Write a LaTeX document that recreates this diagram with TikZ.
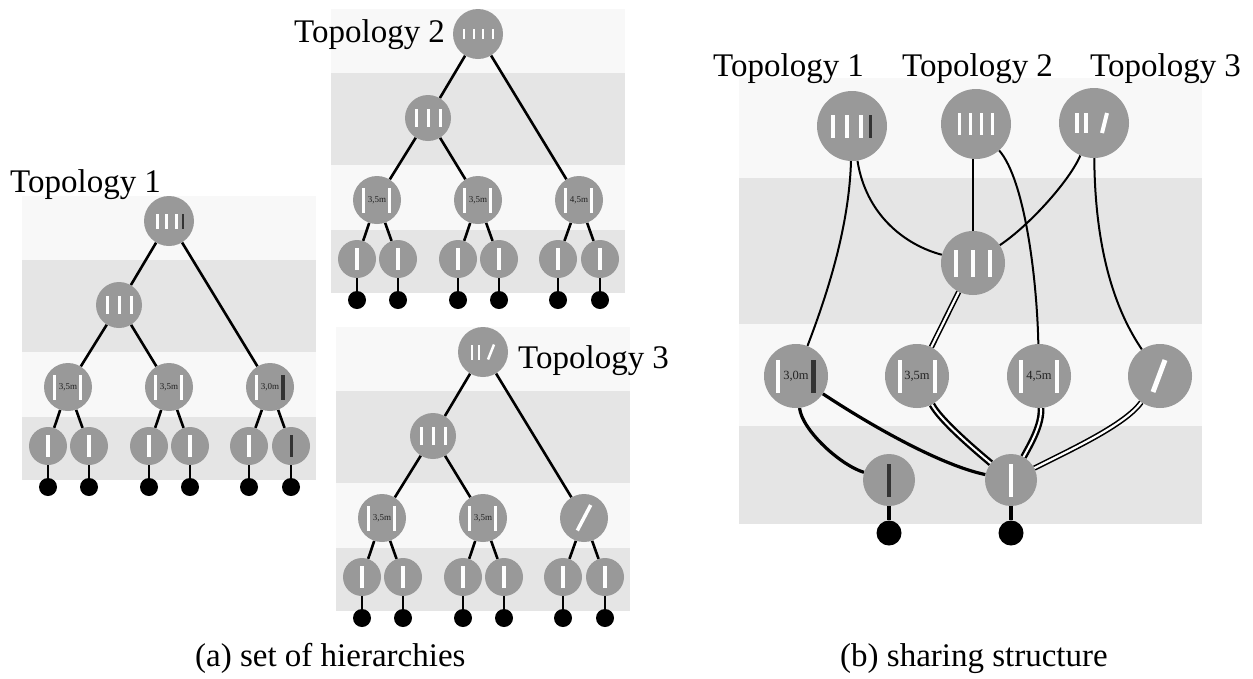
\documentclass[tikz,border=0pt]{standalone}
\usepackage{fontspec}
\setmainfont{Liberation Serif}
\definecolor{bandlight}{HTML}{F8F8F8}
\definecolor{banddark}{HTML}{E5E5E5}
\definecolor{nodegray}{HTML}{999999}
\definecolor{bardark}{HTML}{333333}
\definecolor{textdark}{HTML}{222222}
\pgfdeclarelayer{bands}
\pgfdeclarelayer{edges}
\pgfsetlayers{bands,edges,main}
\tikzset{
  gnode/.style={circle, fill=nodegray, inner sep=0pt, minimum size=#1},
  edgeA/.style={line width=2.6pt, black},
  edgeB/.style={line width=2pt, black},
  edgeBthick/.style={line width=3.2pt, black},
  dblthin/.style={draw=black, double=white, line width=1.6pt, double distance=2.2pt},
  dblthick/.style={draw=black, double=white, line width=2.4pt, double distance=2pt},
  dotA/.style={circle, fill=black, inner sep=0pt, minimum size=18pt},
  dotB/.style={circle, fill=black, inner sep=0pt, minimum size=25pt},
  toplabel/.style={font=\fontsize{33}{40}\selectfont, inner sep=0pt, anchor=base west},
  smA/.style={font=\fontsize{9}{10}\selectfont, text=textdark},
  smB/.style={font=\fontsize{12.5}{14}\selectfont, text=textdark},
}
% glyph helpers
\newcommand\onnode[2]{\begin{scope}[shift={(#1.center)}]#2\end{scope}}
\newcommand\gbar[4]{\fill[#4] ({#1-#2/2},{-#3/2}) rectangle ({#1+#2/2},{#3/2});}
\newcommand\gslash[5]{\draw[white, line width=#5pt] (#1,#2) -- (#3,#4);}
% one hierarchy of panel (a)
\newcommand\hierarchy[5]{%
\begin{scope}[shift={#2}, name prefix=#1-]
\begin{pgfonlayer}{bands}
 \fill[bandlight] (-147,-25) rectangle (147,38.5);
 \fill[banddark] (-147,38.5) rectangle (147,131);
 \fill[bandlight] (-147,131) rectangle (147,196);
 \fill[banddark] (-147,196) rectangle (147,259);
\end{pgfonlayer}
\node[gnode=50pt] (r) at (0,0) {};
\node[gnode=46pt] (m) at (-50,84) {};
\node[gnode=48pt, smA] (p) at (-101,166) {#3};
\node[gnode=48pt, smA] (q) at (0,166) {#4};
\node[gnode=48pt, smA] (s) at (101,166) {#5};
\foreach \i/\x in {1/-121,2/-80,3/-20,4/21,5/80,6/122} {
  \node[gnode=38pt] (l\i) at (\x,225) {};
  \node[dotA] (d\i) at (\x,266) {};
}
\begin{pgfonlayer}{edges}
 \draw[edgeA] (r) -- (m) (r) -- (s) (m) -- (p) (m) -- (q)
   (p) -- (l1) (p) -- (l2) (q) -- (l3) (q) -- (l4) (s) -- (l5) (s) -- (l6);
 \foreach \i in {1,...,6} {\draw[edgeA] (l\i) -- (d\i);}
\end{pgfonlayer}
\end{scope}}
\begin{document}
\begin{tikzpicture}[x=1pt,y=-1pt]
\useasboundingbox (0,0) rectangle (1253,678);
\begin{pgfonlayer}{bands}
\fill[white] (0,0) rectangle (1253,678);
\end{pgfonlayer}

% ---------- panel (a) ----------
\hierarchy{a1}{(169,221)}{3,5m}{3,5m}{3,0m}
\hierarchy{a2}{(478,34)}{3,5m}{3,5m}{4,5m}
\hierarchy{a3}{(483,352)}{3,5m}{3,5m}{}

% glyphs: roots
\onnode{a1-r}{\gbar{-12}{3}{15}{white}\gbar{-2.5}{3}{15}{white}\gbar{7.5}{3}{15}{white}\gbar{14}{2}{15}{bardark}}
\onnode{a2-r}{\gbar{-14}{2}{10}{white}\gbar{-4.5}{2}{10}{white}\gbar{5}{2}{10}{white}\gbar{14.5}{2}{10}{white}}
\onnode{a3-r}{\gbar{-11}{2.5}{15}{white}\gbar{-4}{2.5}{15}{white}\gslash{5}{7.5}{11}{-7.5}{2.5}}
% glyphs: mid, level 3, leaves
\foreach \t in {a1,a2,a3} {
  \onnode{\t-m}{\gbar{-12}{3}{18}{white}\gbar{0}{3}{18}{white}\gbar{12}{3}{18}{white}}
  \onnode{\t-p}{\gbar{-14}{3}{25}{white}\gbar{12.5}{3}{25}{white}}
  \onnode{\t-q}{\gbar{-14}{3}{25}{white}\gbar{12.5}{3}{25}{white}}
}
\onnode{a1-s}{\gbar{-14}{3}{25}{white}\gbar{12.5}{4}{25}{bardark}}
\onnode{a2-s}{\gbar{-14}{3}{25}{white}\gbar{12.5}{3}{25}{white}}
\onnode{a3-s}{\gslash{-6.7}{12.5}{6.7}{-13}{3.5}}
\foreach \t/\n in {a1/1,a1/2,a1/3,a1/4,a1/5,a2/1,a2/2,a2/3,a2/4,a2/5,a2/6,a3/1,a3/2,a3/3,a3/4,a3/5,a3/6} {
  \onnode{\t-l\n}{\gbar{0}{3.5}{22}{white}}
}
\onnode{a1-l6}{\gbar{0}{3}{22}{bardark}}

\node[toplabel] (t1a) at (10,192) {Topology 1};
\node[toplabel] (t2a) at (294,42) {Topology 2};
\node[toplabel] (t3a) at (518,368) {Topology 3};

% ---------- panel (b) ----------
\begin{pgfonlayer}{bands}
 \fill[bandlight] (739,78) rectangle (1202,178);
 \fill[banddark] (739,178) rectangle (1202,323.5);
 \fill[bandlight] (739,323.5) rectangle (1202,426);
 \fill[banddark] (739,426) rectangle (1202,524);
\end{pgfonlayer}
\node[gnode=70pt] (b1) at (852,126) {};
\node[gnode=70pt] (b2) at (976,124) {};
\node[gnode=70pt] (b3) at (1094,123) {};
\node[gnode=64pt] (bm) at (973,263) {};
\node[gnode=64pt, smB] (n1) at (796,376) {3,0m};
\node[gnode=64pt, smB] (n2) at (917,376) {3,5m};
\node[gnode=64pt, smB] (n3) at (1039,376) {4,5m};
\node[gnode=64pt] (n4) at (1160,376) {};
\node[gnode=52pt] (l1) at (889,480) {};
\node[gnode=52pt] (l2) at (1011,480) {};
\node[dotB] (ld1) at (889,533) {};
\node[dotB] (ld2) at (1011,533) {};

\onnode{b1}{\gbar{-18.7}{4}{23}{white}\gbar{-5.3}{4}{23}{white}\gbar{9}{4}{23}{white}\gbar{18.7}{3}{23}{bardark}}
\onnode{b2}{\gbar{-16.5}{3.5}{22}{white}\gbar{-5.5}{3.5}{22}{white}\gbar{5.5}{3.5}{22}{white}\gbar{16.5}{3.5}{22}{white}}
\onnode{b3}{\gbar{-17}{3.5}{20}{white}\gbar{-8}{3.5}{20}{white}\gslash{8}{10}{13}{-10}{4}}
\onnode{bm}{\gbar{-17}{4.5}{27}{white}\gbar{0}{4.5}{27}{white}\gbar{17}{4.5}{27}{white}}
\onnode{n1}{\gbar{-18}{4}{33}{white}\gbar{17.5}{4.5}{33}{bardark}}
\onnode{n2}{\gbar{-17}{4}{33}{white}\gbar{18}{4}{33}{white}}
\onnode{n3}{\gbar{-17.7}{4}{33}{white}\gbar{18}{4}{33}{white}}
\onnode{n4}{\gslash{-7}{16}{5}{-16}{5}}
\onnode{l1}{\gbar{0}{4}{33}{bardark}}
\onnode{l2}{\gbar{0}{4}{33}{white}}

\begin{pgfonlayer}{edges}
\draw[edgeB] (b1) .. controls (849,230) and (825,300) .. (n1);
\draw[edgeB] (b1) .. controls (866,215) and (905,245) .. (bm);
\draw[edgeB] (bm.north) -- (bm.north |- b2.south);
\draw[edgeB] (b2) .. controls (1025,180) and (1037,280) .. (n3);
\draw[edgeB] (b3) .. controls (1070,180) and (1030,225) .. (bm);
\draw[edgeB] (b3) .. controls (1095,250) and (1115,310) .. (n4);
\draw[dblthin] (bm) -- (n2);
\draw[edgeBthick] (n1) .. controls (802,430) and (840,465) .. (l1);
\draw[edgeBthick] (n1) .. controls (870,425) and (940,465) .. (l2);
\draw[dblthick] (n2) .. controls (940,420) and (975,450) .. (l2);
\draw[dblthick] (n3) .. controls (1042,425) and (1030,445) .. (l2);
\draw[dblthin] (n4) .. controls (1125,425) and (1070,450) .. (l2);
\draw[edgeBthick] (l1) -- (ld1);
\draw[edgeBthick] (l2) -- (ld2);
\end{pgfonlayer}

\node[toplabel] (t1b) at (713,76) {Topology 1};
\node[toplabel] (t2b) at (902,76) {Topology 2};
\node[toplabel] (t3b) at (1090,76) {Topology 3};

\node[toplabel] (capa) at (195,666) {(a) set of hierarchies};
\node[toplabel] (capb) at (840,666) {(b) sharing structure};
\end{tikzpicture}
\end{document}
